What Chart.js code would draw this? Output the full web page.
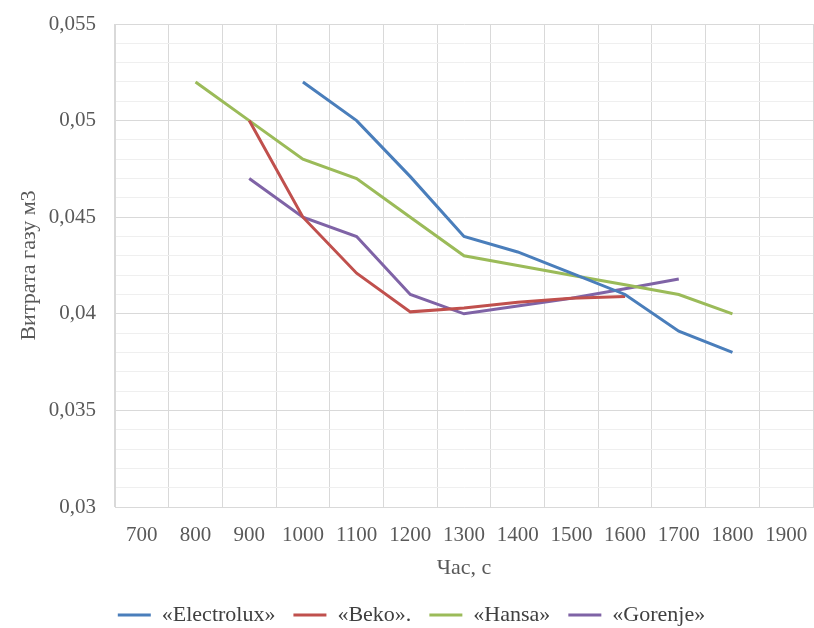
<!DOCTYPE html>
<html>
<head>
<meta charset="utf-8">
<script src="https://cdn.jsdelivr.net/npm/chart.js@4.4.1/dist/chart.umd.min.js"></script>
<style>
  html, body { margin: 0; padding: 0; background: #fff; }
  #wrap { width: 814px; height: 628px; }
</style>
</head>
<body>
<div id="wrap"><canvas id="grafico"></canvas></div>
<script>
// Час, с (категорії осі X)
var chasy = ["700", "800", "900", "1000", "1100", "1200", "1300", "1400", "1500", "1600", "1700", "1800", "1900"];

// Витрата газу, м3
var electrolux = [null, null, null, 0.052, 0.050, 0.0471, 0.044, 0.0432, 0.0421, 0.0410, 0.0391, 0.0380, null];
var beko       = [null, null, 0.050, 0.045, 0.0421, 0.0401, 0.0403, 0.0406, 0.0408, 0.0409, null, null, null];
var hansa      = [null, 0.052, 0.050, 0.048, 0.047, 0.045, 0.043, 0.0425, 0.0420, 0.0415, 0.0410, 0.0400, null];
var gorenje    = [null, null, 0.047, 0.045, 0.044, 0.041, 0.040, 0.0404, 0.0408, 0.0413, 0.0418, null, null];

var nazvy = ["«Electrolux»", "«Beko».", "«Hansa»", "«Gorenje»"];
var kolory = ["#4a7ebb", "#c0504d", "#9bbb59", "#7f63a6"];

var shryft = "'Liberation Serif', 'Times New Roman', serif";
var siryi = "#595959";

function nabir(i, dani) {
    return {
        label: nazvy[i],
        data: dani,
        borderColor: kolory[i],
        backgroundColor: kolory[i],
        borderWidth: 3,
        pointRadius: 0,
        tension: 0,
        fill: false
    };
}

var ctx = document.getElementById("grafico").getContext("2d");
var grafico = new Chart(ctx, {
    type: "line",
    data: {
        labels: chasy,
        datasets: [
            nabir(0, electrolux),
            nabir(1, beko),
            nabir(2, hansa),
            nabir(3, gorenje)
        ]
    },
    options: {
        responsive: true,
        maintainAspectRatio: false,
        animation: false,
        layout: { padding: { left: 10, right: 1, top: 24, bottom: -8 } },
        plugins: {
            tooltip: { enabled: false },
            legend: {
                position: "bottom",
                labels: {
                    usePointStyle: true,
                    pointStyle: "line",
                    pointStyleWidth: 33,
                    color: "#404040",
                    padding: 18,
                    font: { family: shryft, size: 22 }
                }
            }
        },
        scales: {
            x: {
                offset: true,
                grid: { offset: true, color: "#d9d9d9", drawTicks: true, tickLength: 16, tickColor: "rgba(0,0,0,0)" },
                border: { color: "#d9d9d9" },
                ticks: { color: siryi, padding: 0, maxRotation: 0, autoSkip: false, font: { family: shryft, size: 21 } },
                title: { display: true, text: "Час, с", color: siryi, padding: { top: 0, bottom: 5 }, font: { family: shryft, size: 22 } },
                afterFit: function (scale) { scale.height = 79; }
            },
            y: {
                min: 0.03,
                max: 0.055,
                grid: {
                    drawTicks: true,
                    tickLength: 19,
                    tickColor: "rgba(0,0,0,0)",
                    color: function (c) {
                        var v = Math.round(c.tick.value * 1000);
                        return v % 5 === 0 ? "#d9d9d9" : "#efefef";
                    }
                },
                border: { color: "#d9d9d9" },
                ticks: {
                    stepSize: 0.001,
                    autoSkip: false,
                    padding: 0,
                    color: siryi,
                    font: { family: shryft, size: 21 },
                    callback: function (value) {
                        var v = Math.round(value * 1000);
                        if (v % 5 !== 0) return "";
                        return (v / 1000).toString().replace(".", ",");
                    }
                },
                title: { display: true, text: "Витрата газу м3", color: siryi, padding: { top: 6, bottom: 0 }, font: { family: shryft, size: 22 } },
                afterFit: function (scale) { scale.width = 105; }
            }
        }
    }
});
</script>
</body>
</html>
